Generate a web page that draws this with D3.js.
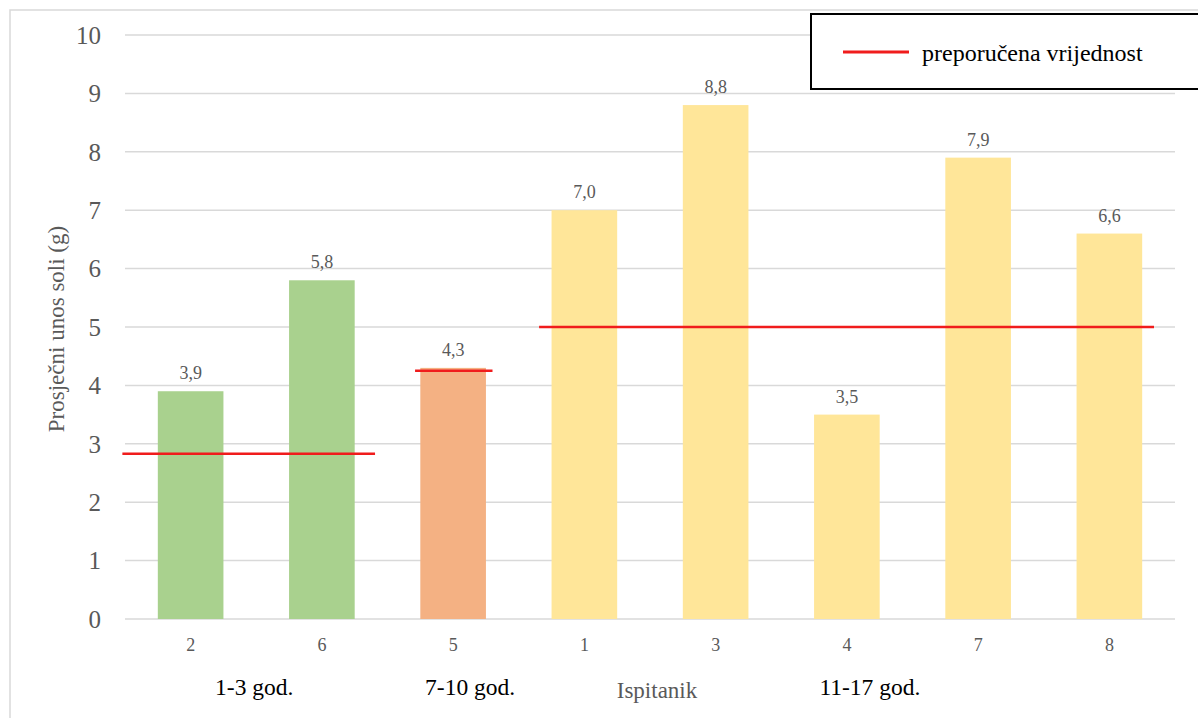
<!DOCTYPE html>
<html>
<head>
    <meta charset="utf-8">
    <title>Prosječni unos soli</title>
    <script src="https://d3js.org/d3.v7.min.js"></script>
    <style>
        body { margin: 0; background: #fff; }
        .grid line { stroke: #d9d9d9; stroke-width: 1.5px; }
        .tick-label { fill: #595959; }
    </style>
</head>
<body>
    <div id="chart"></div>
    <script>
        // podaci
        const ispitanici = ["2", "6", "5", "1", "3", "4", "7", "8"];
        const unosSoli = [3.9, 5.8, 4.3, 7.0, 8.8, 3.5, 7.9, 6.6];
        const skupine = ["1-3 god.", "1-3 god.", "7-10 god.", "11-17 god.", "11-17 god.", "11-17 god.", "11-17 god.", "11-17 god."];
        const nazivSkupina = ["1-3 god.", "7-10 god.", "11-17 god."];
        const preporuka = [2.83, 4.25, 5.0];
        const yTicks = [0, 1, 2, 3, 4, 5, 6, 7, 8, 9, 10];

        const width = 1198, height = 718;
        const margin = { left: 125, right: 23, top: 35, bottom: 99 };
        const font = "'Liberation Serif', Tinos, 'DejaVu Serif', 'Times New Roman', serif";

        const boje = { "1-3 god.": "#a9d18e", "7-10 god.": "#f4b183", "11-17 god.": "#ffe699" };
        // raspon crvenih linija u jedinicama kategorija (rucno postavljeno)
        const rasponLinija = [[-0.02, 1.905], [2.21, 2.8], [3.155, 7.84]];
        const pomakNaziva = [-2, 17, 23];

        const svg = d3.select("#chart").append("svg")
            .attr("width", width).attr("height", height)
            .attr("font-family", font)
            .style("font-family", font);

        // vanjski okvir
        svg.append("rect")
            .attr("x", 10).attr("y", 10)
            .attr("width", width + 20).attr("height", height + 20)
            .attr("fill", "none").attr("stroke", "#d9d9d9").attr("stroke-width", 1.5);

        const x = d3.scaleBand()
            .domain(d3.range(ispitanici.length))
            .range([margin.left, width - margin.right])
            .paddingInner(0.5).paddingOuter(0.25);
        const bw = x.step();
        const x0 = margin.left;

        const y = d3.scaleLinear().domain([0, 10]).range([height - margin.bottom, margin.top]);

        // mreza
        svg.append("g").attr("class", "grid")
            .selectAll("line").data(yTicks).join("line")
            .attr("x1", margin.left).attr("x2", width - margin.right)
            .attr("y1", d => y(d)).attr("y2", d => y(d));

        // oznake y osi
        svg.append("g").selectAll("text").data(yTicks).join("text")
            .attr("class", "tick-label")
            .attr("x", 101).attr("y", d => y(d)).attr("dy", "0.35em")
            .attr("text-anchor", "end").style("font-size", "25px")
            .text(d => d);

        // stupci
        svg.append("g").selectAll("rect").data(unosSoli).join("rect")
            .attr("x", (d, i) => x(i)).attr("width", x.bandwidth())
            .attr("y", d => y(d)).attr("height", d => y(0) - y(d))
            .attr("fill", (d, i) => boje[skupine[i]]);

        // vrijednosti
        svg.append("g").selectAll("text").data(unosSoli).join("text")
            .attr("class", "tick-label")
            .attr("x", (d, i) => x(i) + x.bandwidth() / 2)
            .attr("y", d => y(d) - 12)
            .attr("text-anchor", "middle").style("font-size", "18px")
            .text(d => d3.format(".1f")(d).replace(".", ","));

        // oznake x osi
        svg.append("g").selectAll("text").data(ispitanici).join("text")
            .attr("class", "tick-label")
            .attr("x", (d, i) => x(i) + x.bandwidth() / 2)
            .attr("y", y(0) + 32)
            .attr("text-anchor", "middle").style("font-size", "18px")
            .text(d => d);

        // preporucene vrijednosti
        svg.append("g").selectAll("line").data(preporuka).join("line")
            .attr("x1", (d, i) => x0 + rasponLinija[i][0] * bw)
            .attr("x2", (d, i) => x0 + rasponLinija[i][1] * bw)
            .attr("y1", d => y(d)).attr("y2", d => y(d))
            .attr("stroke", "#f01c1c").attr("stroke-width", 2.5);

        // nazivi skupina
        svg.append("g").selectAll("text").data(nazivSkupina).join("text")
            .attr("x", (d, i) => {
                const idx = skupine.map((s, j) => s === d ? j : -1).filter(j => j >= 0);
                return x0 + (d3.min(idx) + d3.max(idx) + 1) / 2 * bw + pomakNaziva[i];
            })
            .attr("y", 695)
            .attr("text-anchor", "middle").style("font-size", "23.5px").attr("fill", "#000")
            .text(d => d);

        // naslov x osi
        svg.append("text").attr("class", "tick-label")
            .attr("x", (margin.left + width - margin.right) / 2 + 7).attr("y", 698)
            .attr("text-anchor", "middle").style("font-size", "23px")
            .text("Ispitanik");

        // naslov y osi
        svg.append("text").attr("class", "tick-label")
            .attr("transform", `translate(64,${(y(0) + y(10)) / 2 + 2}) rotate(-90)`)
            .attr("text-anchor", "middle").style("font-size", "23px")
            .text("Prosječni unos soli (g)");

        // legenda
        const leg = svg.append("g").attr("transform", "translate(811,14)");
        leg.append("rect").attr("width", 400).attr("height", 75)
            .attr("fill", "#fff").attr("stroke", "#000").attr("stroke-width", 2);
        leg.append("line").attr("x1", 32).attr("x2", 98).attr("y1", 38).attr("y2", 38)
            .attr("stroke", "#f01c1c").attr("stroke-width", 3);
        leg.append("text").attr("x", 111).attr("y", 40).attr("dy", "0.3em")
            .style("font-size", "24px").attr("fill", "#000")
            .text("preporučena vrijednost");
    </script>
</body>
</html>
